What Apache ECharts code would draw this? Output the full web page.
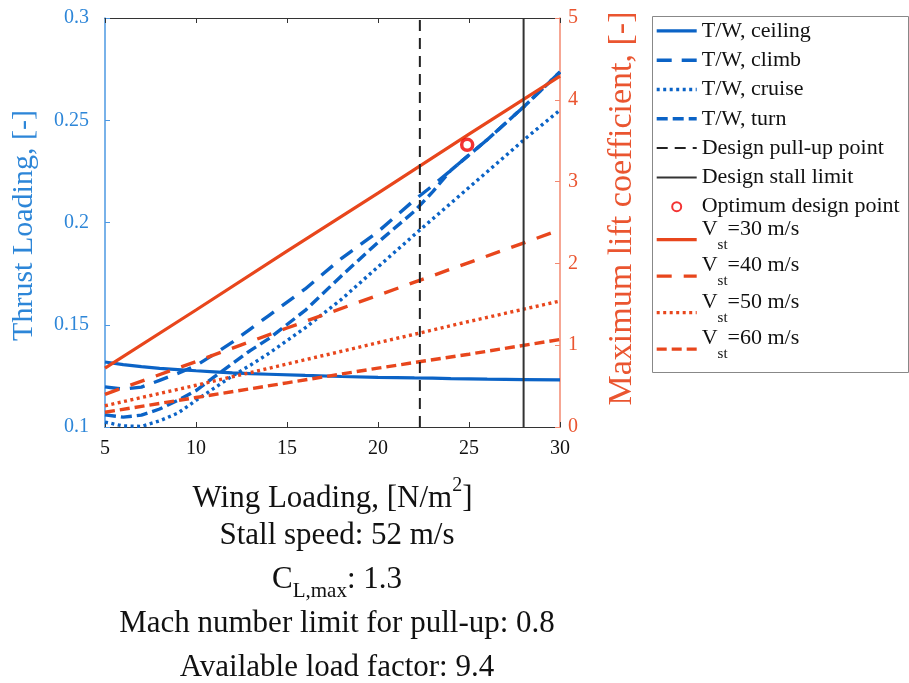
<!DOCTYPE html>
<html>
<head>
<meta charset="utf-8">
<script src="https://cdn.jsdelivr.net/npm/echarts@6/dist/echarts.min.js"></script>
<style>
html,body{margin:0;padding:0;background:#fff;}
#chart{width:909px;height:683px;}
</style>
</head>
<body>
<div id="chart"></div>
<script>
// ---- data ----
const wingLoading = [5,6,7,8,9,10,11,12,13,14,16,18,20,22,23,24,26,28,30];
const twCeiling = [0.1318,0.1305,0.1295,0.1287,0.1281,0.1275,0.1270,0.1265,0.1261,0.1258,0.1252,0.1247,0.1243,0.1240,0.1239,0.1237,0.1234,0.1232,0.1230];
const twClimb   = [0.1196,0.1185,0.1195,0.1228,0.1262,0.1300,0.1356,0.1415,0.1480,0.1545,0.1675,0.1825,0.1955,0.2110,0.2180,0.2255,0.2405,0.2565,0.2736];
const twCruise  = [0.1024,0.1005,0.1003,0.1030,0.1068,0.1130,0.1190,0.1250,0.1303,0.1360,0.1485,0.1625,0.1783,0.1940,0.2017,0.2094,0.2248,0.2403,0.2550];
const twTurn    = [0.1059,0.1048,0.1058,0.1088,0.1130,0.1178,0.1245,0.1310,0.1375,0.1432,0.1570,0.1740,0.1903,0.2055,0.2150,0.2255,0.2405,0.2565,0.2736];

const wingLoadingCL = [5,10,15,20,25,30];
const clV30 = [0.72,1.43,2.15,2.86,3.58,4.29];
const clV40 = [0.40,0.80,1.21,1.61,2.01,2.41];
const clV50 = [0.26,0.51,0.77,1.03,1.29,1.54];
const clV60 = [0.18,0.36,0.54,0.72,0.89,1.07];

const designPullUp = 22.3;
const designStall = 28.0;
const thrustRange = [0.1, 0.3];
const optimumPoint = [24.9, 0.238];

const xTicks = [5,10,15,20,25,30];
const leftTicks = [0.1,0.15,0.2,0.25,0.3];
const rightTicks = [0,1,2,3,4,5];

const seriesNames = ['T/W, ceiling','T/W, climb','T/W, cruise','T/W, turn','Design pull-up point','Design stall limit','Optimum design point','V_st=30 m/s','V_st=40 m/s','V_st=50 m/s','V_st=60 m/s'];
const bottomLines = ['Stall speed: 52 m/s', '{n|C}{s|L,max}{n|: 1.3}', 'Mach number limit for pull-up: 0.8', 'Available load factor: 9.4'];

// ---- styles ----
const FONT = "'Liberation Serif','DejaVu Serif',serif";
const BLUE = '#0b63c6';
const RED = '#e8461c';
const BLUE_TXT = '#2d86d8';
const RED_TXT = '#ea5530';

function pairs(xs, ys){ return xs.map((x,i)=>[x, ys[i]]); }

function lineSeries(name, xs, ys, color, type, width, yAxisIndex){
  return {
    name, type:'line', xAxisIndex:0, yAxisIndex:yAxisIndex||0,
    data: pairs(xs, ys), symbol:'none', smooth:false,
    lineStyle:{color, width, type, cap:'butt'},
    itemStyle:{color, opacity:0}, z:2
  };
}

const chart = echarts.init(document.getElementById('chart'), null, {renderer:'canvas'});

const legendData = seriesNames.map(function(n, i){
  if (n === 'Optimum design point') return {name:n};
  const w = (i === 4 || i === 5) ? 2 : 3.4;
  return {name:n, itemStyle:{opacity:0}, lineStyle:{width:w}};
});

const option = {
  animation:false,
  backgroundColor:'#fff',
  grid:{left:105, right:349, top:18, bottom:256, containLabel:false},
  xAxis:[{
    type:'value', min:xTicks[0], max:xTicks[xTicks.length-1], interval:5, position:'bottom',
    axisLine:{show:true, onZero:false, lineStyle:{color:'#333', width:1}},
    axisTick:{show:true, inside:true, length:5, lineStyle:{color:'#333'}},
    axisLabel:{color:'#111', fontSize:20, fontFamily:FONT, margin:12},
    splitLine:{show:false},
    name:'{n|Wing Loading, [N/m}{sup|2}{n|]}', nameLocation:'middle', nameGap:49,
    nameTextStyle:{
      rich:{
        n:{fontSize:31, fontFamily:FONT, color:'#111', verticalAlign:'bottom', lineHeight:38},
        sup:{fontSize:20, fontFamily:FONT, color:'#111', verticalAlign:'top'}
      }
    }
  },{
    type:'value', min:xTicks[0], max:xTicks[xTicks.length-1], interval:5, position:'top',
    axisLine:{show:true, onZero:false, lineStyle:{color:'#333', width:1}},
    axisTick:{show:true, inside:true, length:5, lineStyle:{color:'#333'}},
    axisLabel:{show:false}, splitLine:{show:false}
  }],
  yAxis:[{
    type:'value', min:leftTicks[0], max:leftTicks[leftTicks.length-1], interval:0.05, position:'left',
    axisLine:{show:true, onZero:false, lineStyle:{color:'#4d98e2', width:1.5}},
    axisTick:{show:true, inside:true, length:5, lineStyle:{color:'#4d98e2'}},
    axisLabel:{color:BLUE_TXT, fontSize:20, fontFamily:FONT, margin:16},
    splitLine:{show:false},
    name:'Thrust Loading, [-]', nameLocation:'middle', nameGap:66,
    nameTextStyle:{color:BLUE_TXT, fontSize:30, fontFamily:FONT, padding:[0,6,0,0]}
  },{
    type:'value', min:rightTicks[0], max:rightTicks[rightTicks.length-1], interval:1, position:'right',
    axisLine:{show:true, onZero:false, lineStyle:{color:'#f3886f', width:1.5}},
    axisTick:{show:true, inside:true, length:5, lineStyle:{color:'#f3886f'}},
    axisLabel:{color:RED_TXT, fontSize:20, fontFamily:FONT, margin:8},
    splitLine:{show:false},
    name:'Maximum lift coefficient, [-]', nameLocation:'middle', nameGap:45,
    nameTextStyle:{color:RED_TXT, fontSize:34, fontFamily:FONT, padding:[0,0,0,28]}
  }],
  legend:{
    orient:'vertical', left:655, top:13, padding:0, itemGap:-6.5,
    itemWidth:40, itemHeight:9, selectedMode:false,
    data: legendData,
    formatter: function(name){
      if (name.indexOf('V_st') === 0) return '{n|V}{s|st}{n|' + name.slice(4) + '}';
      return name;
    },
    textStyle:{
      fontFamily:FONT, fontSize:22, color:'#111', lineHeight:35.8,
      rich:{
        n:{fontFamily:FONT, fontSize:22, color:'#111', lineHeight:43, verticalAlign:'top'},
        s:{fontFamily:FONT, fontSize:15, color:'#111', verticalAlign:'bottom', padding:[0,0,9,0]}
      }
    }
  },
  graphic:[
    {type:'rect', shape:{x:652.5, y:16.5, width:256, height:356}, style:{fill:'none', stroke:'#888', lineWidth:1}, z:1},
    {type:'text', x:337, y:536, style:{text:bottomLines[0], font:'31px '+FONT, fill:'#111', align:'center', verticalAlign:'middle'}},
    {type:'text', x:337, y:583, style:{text:bottomLines[1], fill:'#111', align:'center', verticalAlign:'middle',
      rich:{ n:{font:'31px '+FONT, fill:'#111', verticalAlign:'top', lineHeight:38}, s:{font:'21px '+FONT, fill:'#111', verticalAlign:'bottom'} }}},
    {type:'text', x:337, y:624, style:{text:bottomLines[2], font:'31px '+FONT, fill:'#111', align:'center', verticalAlign:'middle'}},
    {type:'text', x:337, y:668, style:{text:bottomLines[3], font:'31px '+FONT, fill:'#111', align:'center', verticalAlign:'middle'}}
  ],
  series:[
    lineSeries(seriesNames[0], wingLoading, twCeiling, BLUE, 'solid', 3.2),
    lineSeries(seriesNames[1], wingLoading, twClimb, BLUE, [15,10], 3.4),
    lineSeries(seriesNames[2], wingLoading, twCruise, BLUE, [3,3.5], 3.4),
    lineSeries(seriesNames[3], wingLoading, twTurn, BLUE, [11,5], 3.4),
    {name:seriesNames[4], type:'line', symbol:'none', data: thrustRange.map(v=>[designPullUp, v]),
      lineStyle:{color:'#222', width:2, type:[11,7]}, itemStyle:{color:'#222', opacity:0}, z:3},
    {name:seriesNames[5], type:'line', symbol:'none', data: thrustRange.map(v=>[designStall, v]),
      lineStyle:{color:'#333', width:2, type:'solid'}, itemStyle:{color:'#333', opacity:0}, z:3},
    {name:seriesNames[6], type:'scatter', data:[optimumPoint], symbol:'circle', symbolSize:11,
      itemStyle:{color:'#fff', borderColor:'#f00000', borderWidth:3.5}, z:5},
    lineSeries(seriesNames[7], wingLoadingCL, clV30, RED, 'solid', 3.2, 1),
    lineSeries(seriesNames[8], wingLoadingCL, clV40, RED, [15,12], 3.4, 1),
    lineSeries(seriesNames[9], wingLoadingCL, clV50, RED, [3,3.5], 3.4, 1),
    lineSeries(seriesNames[10], wingLoadingCL, clV60, RED, [10,5], 3.4, 1)
  ]
};
chart.setOption(option);
</script>
</body>
</html>
